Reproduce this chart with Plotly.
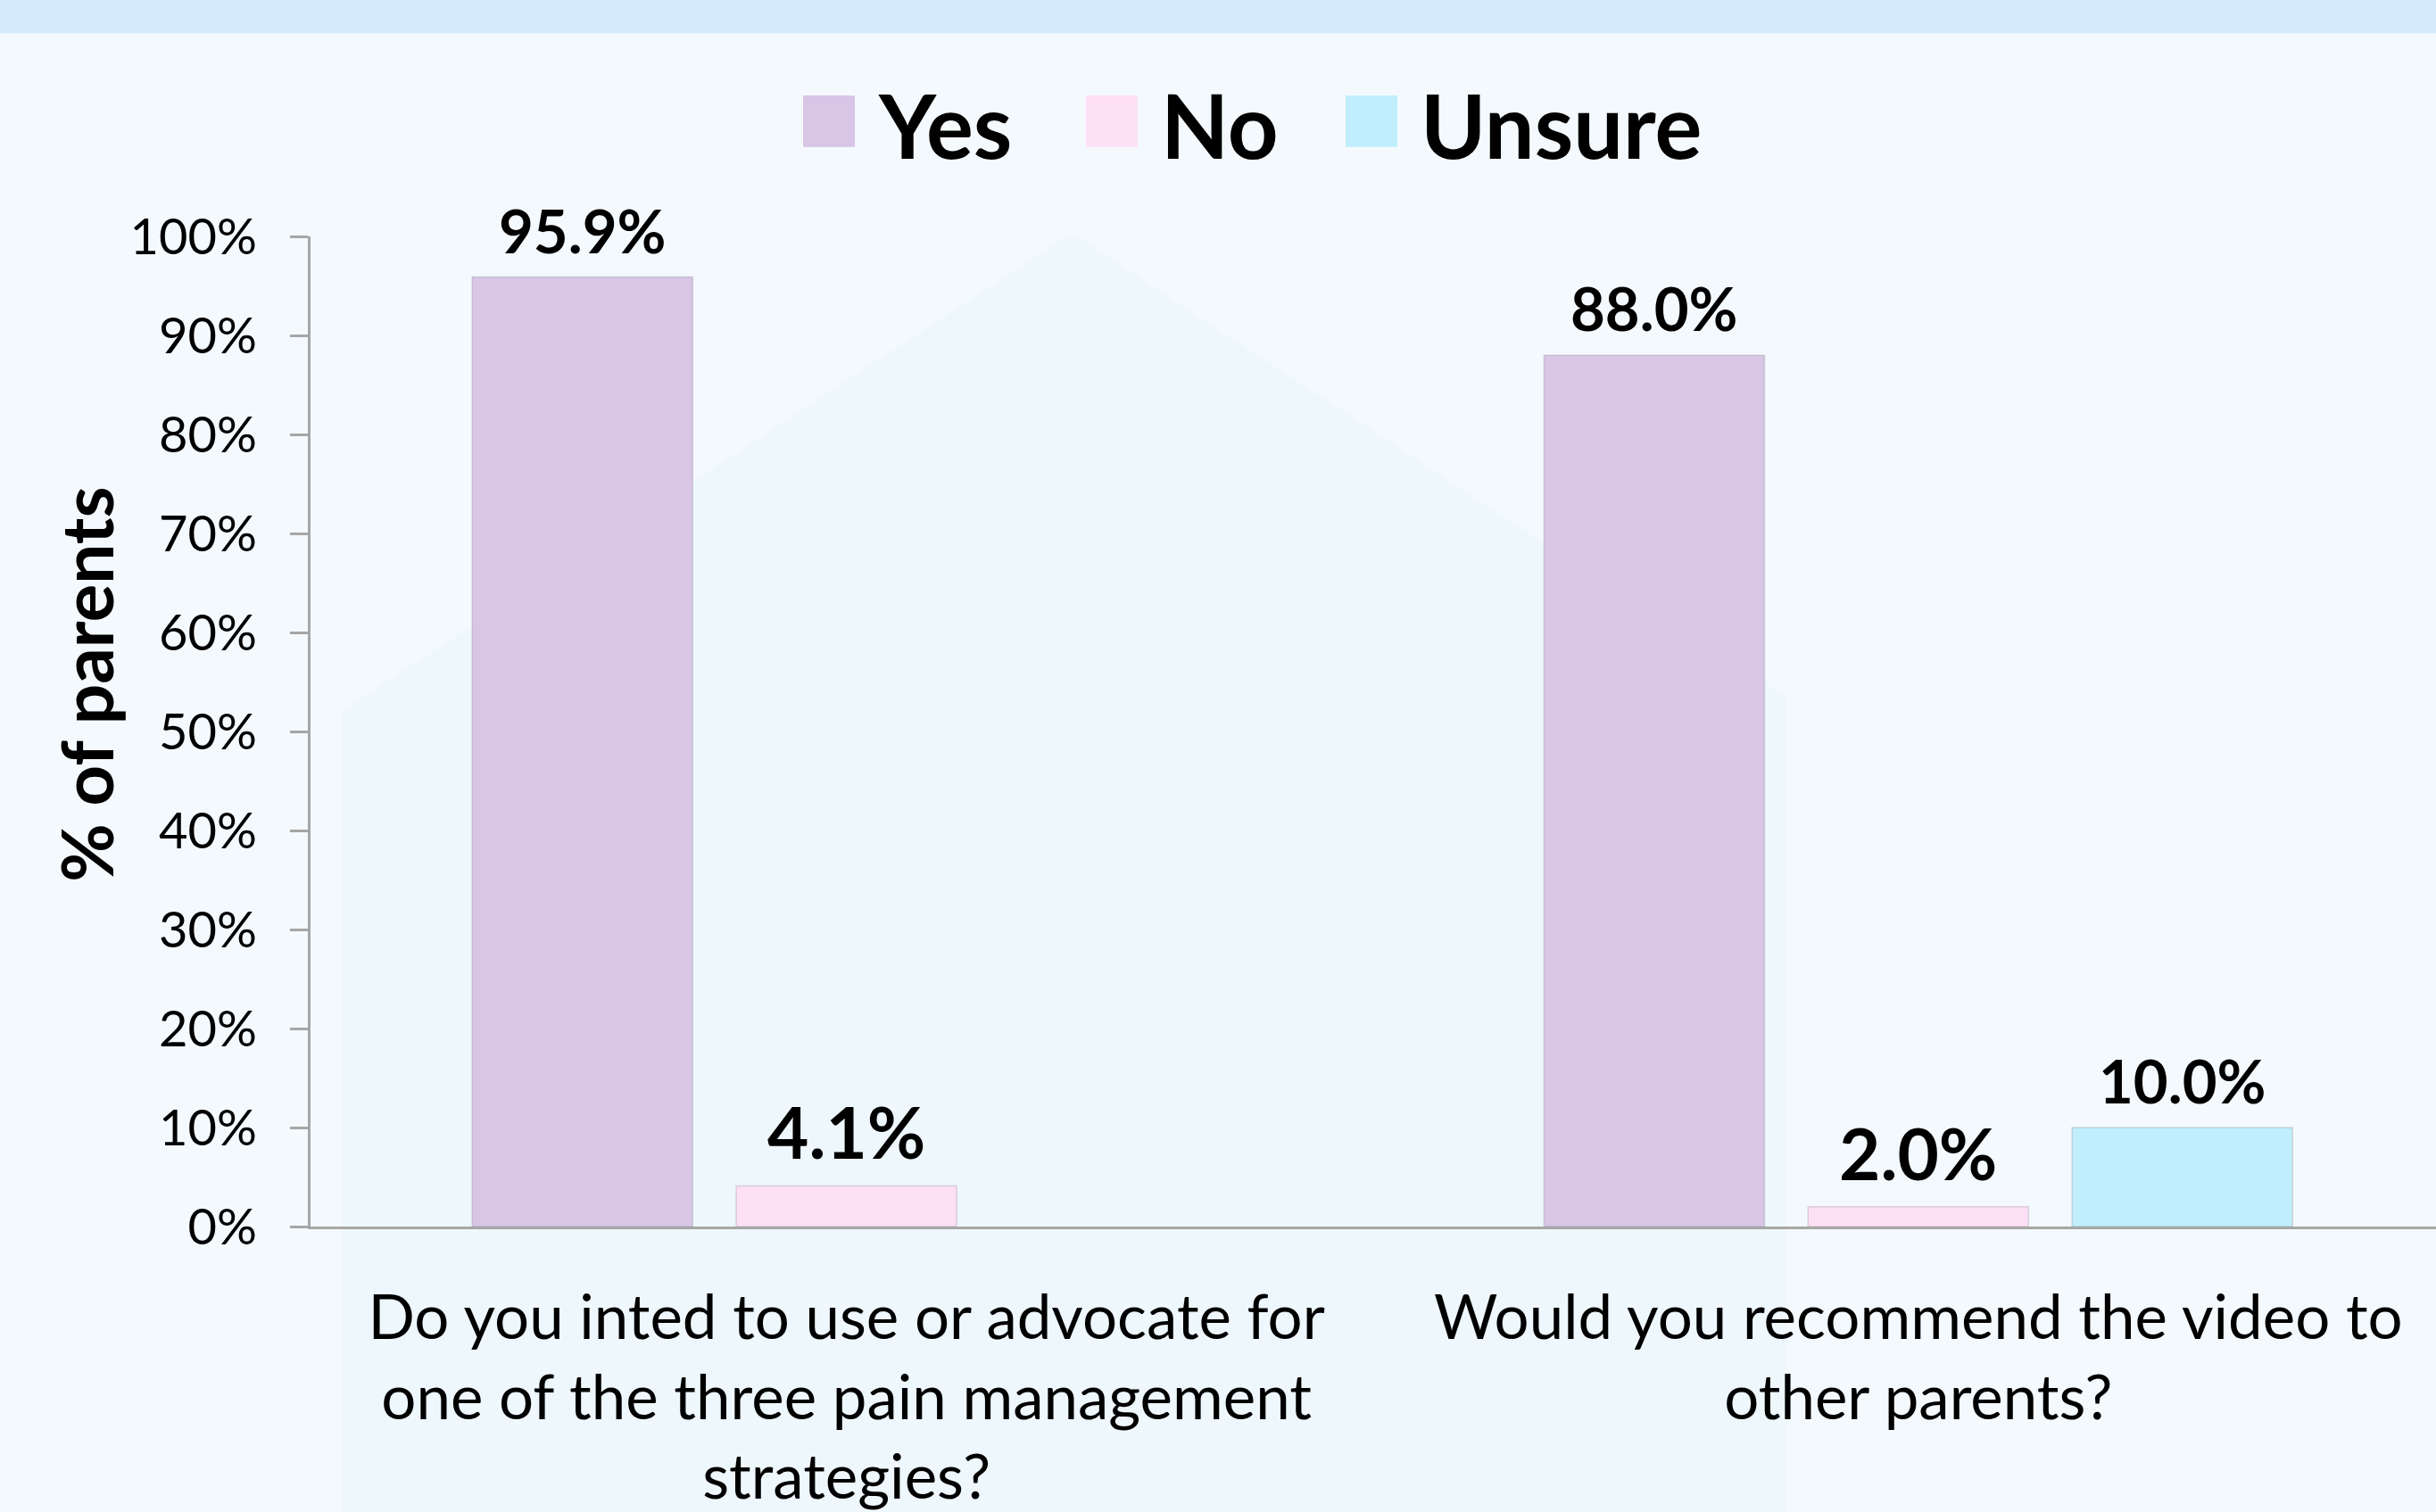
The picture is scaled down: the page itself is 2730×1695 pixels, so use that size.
import plotly.graph_objects as go

# ---- data ----
categories = [
    "Do you inted to use or advocate for<br>one of the three pain management<br>strategies?",
    "Would you recommend the video to<br>other parents?",
]
series_names = ["Yes", "No", "Unsure"]
yes_vals = [95.9, 88.0]
no_vals = [4.1, 2.0]
unsure_vals = [None, 10.0]
series_values = [yes_vals, no_vals, unsure_vals]
series_colors = ["#d9c5e6", "#fde0f6", "#c0eefc"]
y_tickvals = [0, 10, 20, 30, 40, 50, 60, 70, 80, 90, 100]
y_ticktext = ["0%", "10%", "20%", "30%", "40%", "50%", "60%", "70%", "80%", "90%", "100%"]
y_title = "% of parents"

# ---- layout geometry (pixels) ----
W, H = 2730, 1695
L, R, T, B = 348, 0, 265, 313
PW, PH = W - L - R, H - T - B
FONT = "Lato"
S = 1.741  # scale from reference thumbnail units to pixels
X_RANGE = [-0.5, 1.483]
BARGAP, BARGROUPGAP = 0.261, 0.165
BG = "#f4f9fe"


def xp(px):
    return (px - L) / PW


def yp(py):
    return (T + PH - py) / PH


fig = go.Figure()
for name, vals, col in zip(series_names, series_values, series_colors):
    fig.add_trace(go.Bar(
        name=name,
        x=categories,
        y=vals,
        marker=dict(color=col, line=dict(color="rgba(120,120,120,0.25)", width=1.5)),
        showlegend=False,
        hoverinfo="x+y",
    ))

# value labels above bars (data coordinates, shifted to each bar's slot in the group)
px_per_unit = PW / (X_RANGE[1] - X_RANGE[0])
slot_px = (1 - BARGAP) / len(series_names) * px_per_unit
annotations = []
for i, vals in enumerate(series_values):
    for cat, v in zip(categories, vals):
        if v is None:
            continue
        size = 80 if v < 5 else 67
        annotations.append(dict(
            x=cat, y=v, xref="x", yref="y", showarrow=False,
            xanchor="center", yanchor="bottom",
            xshift=(i - (len(series_names) - 1) / 2) * slot_px, yshift=11,
            text=f"<b>{v:.1f}%</b>", font=dict(family=FONT, size=size, color="black"),
        ))

# faint background watermark polygon
poly = [(220, 460), (690, 150), (1000, 355), (1150, 450), (1150, 985), (220, 985)]
path = "M " + " L ".join(f"{xp(a * S):.4f},{yp(b * S):.4f}" for a, b in poly) + " Z"
shapes = [dict(type="path", xref="paper", yref="paper", path=path,
               fillcolor="#eef7fc", line=dict(width=0), layer="below")]
# top band
shapes.append(dict(type="rect", xref="paper", yref="paper", x0=xp(0), x1=xp(W), y0=yp(36), y1=yp(-10),
                   fillcolor="#d5ecfc", line=dict(width=0), layer="below"))

# manual legend
legend_swatch_x = [900, 1217, 1508]
sw = 58
sy0, sy1 = 106, 164
for name, col, sx in zip(series_names, series_colors, legend_swatch_x):
    shapes.append(dict(type="rect", xref="paper", yref="paper",
                       x0=xp(sx), x1=xp(sx + sw), y0=yp(sy1), y1=yp(sy0),
                       fillcolor=col, line=dict(width=0)))
    annotations.append(dict(xref="paper", yref="paper", x=xp(sx + sw + 24), y=yp(139),
                            xanchor="left", yanchor="middle", showarrow=False,
                            text=f"<b>{name}</b>", font=dict(family=FONT, size=99, color="black")))

# y-axis title
annotations.append(dict(xref="paper", yref="paper", x=xp(96), y=yp(771),
                        xanchor="center", yanchor="middle", showarrow=False, textangle=-90,
                        text=f"<b>{y_title}</b>", font=dict(family=FONT, size=80, color="black")))

fig.update_layout(
    width=W, height=H,
    margin=dict(l=L, r=R, t=T, b=B),
    paper_bgcolor=BG,
    plot_bgcolor="rgba(0,0,0,0)",
    barmode="group",
    bargap=BARGAP,
    bargroupgap=BARGROUPGAP,
    showlegend=False,
    shapes=shapes,
    annotations=annotations,
    font=dict(family=FONT, color="black"),
)
fig.update_xaxes(
    range=X_RANGE,
    showline=True, linecolor="#a6a6a6", linewidth=3,
    ticks="", showgrid=False, zeroline=False,
    tickfont=dict(family=FONT, size=69, color="black"),
    ticklabelstandoff=40,
)
fig.update_yaxes(
    range=[0, 100],
    tickvals=y_tickvals, ticktext=y_ticktext,
    showline=True, linecolor="#a6a6a6", linewidth=3,
    ticks="outside", ticklen=20, tickwidth=3, tickcolor="#a6a6a6",
    showgrid=False, zeroline=False,
    tickfont=dict(family=FONT, size=56, color="black"),
    ticklabelstandoff=26,
)

fig.write_html("out.html", config={"displayModeBar": False},
               post_script=f"document.body.style.margin='0';document.body.style.background='{BG}';")
